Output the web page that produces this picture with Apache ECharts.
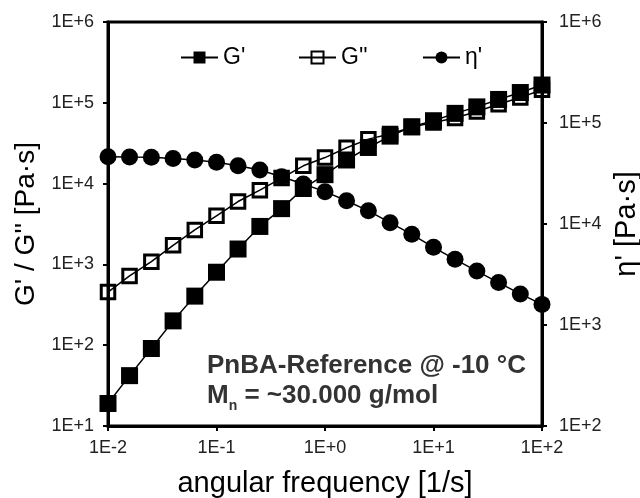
<!DOCTYPE html>
<html><head><meta charset="utf-8">
<script src="https://cdn.jsdelivr.net/npm/echarts@6/dist/echarts.min.js"></script>
<style>html,body{margin:0;padding:0;background:#fff}#c{width:640px;height:498px}</style>
</head><body><div id="c"></div>
<script>
// angular frequency [1/s]
const freq = [0.01, 0.0158, 0.0251, 0.0398, 0.0631, 0.1, 0.158, 0.251, 0.398, 0.631, 1, 1.58, 2.51, 3.98, 6.31, 10, 15.8, 25.1, 39.8, 63.1, 100];
// G' [Pa]
const Gp = [19, 42, 91, 200, 405, 800, 1550, 2950, 4900, 8700, 12900, 19600, 28000, 38700, 50500, 60000, 74000, 89000, 110000, 134000, 166000];
// G'' [Pa]
const Gpp = [455, 720, 1080, 1720, 2670, 4000, 6000, 8300, 11700, 16600, 21000, 27800, 35500, 41000, 50000, 57000, 65000, 78000, 96000, 116000, 145000];
// eta' [Pa·s]
const eta = [46400, 46000, 45700, 44600, 43000, 40800, 37800, 34300, 29400, 24900, 20900, 17000, 13500, 10300, 7900, 5880, 4470, 3420, 2630, 2030, 1600];

const xTickLabels = ['1E-2', '1E-1', '1E+0', '1E+1', '1E+2'];
const leftTickLabels = ['1E+1', '1E+2', '1E+3', '1E+4', '1E+5', '1E+6'];
const rightTickLabels = ['1E+2', '1E+3', '1E+4', '1E+5', '1E+6'];

const FONT = 'Liberation Sans, Arial, sans-serif';
const pick = (arr, minExp) => v => arr[Math.round(Math.log10(v)) - minExp] || '';

const axisCommon = {
  type: 'log', logBase: 10,
  axisLine: { show: true, lineStyle: { color: '#000', width: 3 } },
  axisTick: { show: true, inside: false, length: 5, lineStyle: { color: '#000', width: 2 } },
  splitLine: { show: false },
  minorTick: { show: false },
  nameLocation: 'middle',
  nameTextStyle: { fontFamily: FONT, fontSize: 28, color: '#000' }
};

const chart = echarts.init(document.getElementById('c'), null, { renderer: 'canvas' });
chart.setOption({
  animation: false,
  backgroundColor: '#fff',
  grid: { left: 108, right: 98, top: 22, bottom: 72, containLabel: false, outerBoundsMode: 'none', show: true, borderColor: '#000', borderWidth: 3, backgroundColor: 'transparent' },
  legend: [
    { data: ["G'"], left: 175, top: 41 },
    { data: ["G''"], left: 293, top: 41 },
    { data: ["η'"], left: 417, top: 41 }
  ].map(l => Object.assign(l, {
    itemWidth: 37, itemHeight: 15, itemGap: 0,
    textStyle: { fontFamily: FONT, fontSize: 23, color: '#000' },
    selectedMode: false
  })),
  xAxis: Object.assign({}, axisCommon, {
    min: 0.01, max: 100, interval: 1,
    name: 'angular frequency [1/s]', nameGap: 43,
    nameTextStyle: { fontFamily: FONT, fontSize: 29, color: '#000' },
    axisLabel: { fontFamily: FONT, fontSize: 18, color: '#222', margin: 13, formatter: pick(xTickLabels, -2) }
  }),
  yAxis: [
    Object.assign({}, axisCommon, {
      position: 'left', min: 10, max: 1e6, interval: 1,
      name: "G' / G'' [Pa·s]", nameGap: 62, nameRotate: 90,
      axisLabel: { fontFamily: FONT, fontSize: 18, color: '#222', margin: 14, formatter: pick(leftTickLabels, 1) }
    }),
    Object.assign({}, axisCommon, {
      position: 'right', min: 100, max: 1e6, interval: 1,
      name: "η' [Pa·s]", nameGap: 66, nameRotate: 90,
      nameTextStyle: { fontFamily: FONT, fontSize: 29, color: '#000' },
      axisLabel: { fontFamily: FONT, fontSize: 18, color: '#222', margin: 17, formatter: pick(rightTickLabels, 2) }
    })
  ],
  series: [
    {
      name: "G'", type: 'line', yAxisIndex: 0, z: 3,
      data: freq.map((f, i) => [f, Gp[i]]),
      symbol: 'rect', symbolSize: 17,
      lineStyle: { color: '#000', width: 1.5 },
      itemStyle: { color: '#000', borderColor: '#000', borderWidth: 0 }
    },
    {
      name: "G''", type: 'line', yAxisIndex: 0, z: 4,
      data: freq.map((f, i) => [f, Gpp[i]]),
      symbol: 'rect', symbolSize: 13.5,
      lineStyle: { color: '#000', width: 1.5 },
      itemStyle: { color: 'rgba(255,255,255,0)', borderColor: '#000', borderWidth: 3 }
    },
    {
      name: "η'", type: 'line', yAxisIndex: 1, z: 5,
      data: freq.map((f, i) => [f, eta[i]]),
      symbol: 'circle', symbolSize: 17,
      lineStyle: { color: '#000', width: 1.5 },
      itemStyle: { color: '#000', borderWidth: 0 }
    }
  ],
  graphic: [
    {
      type: 'text', left: 207, top: 353, z: 10,
      style: { text: 'PnBA-Reference @ -10 °C', font: 'bold 26px ' + FONT, fill: '#333' }
    },
    {
      type: 'text', left: 207, top: 383, z: 10,
      style: {
        text: '{a|M}{s|n}{a| = ~30.000 g/mol}',
        rich: {
          a: { font: 'bold 26px ' + FONT, fill: '#333', lineHeight: 28, verticalAlign: 'bottom' },
          s: { font: 'bold 14px ' + FONT, fill: '#333', lineHeight: 14, verticalAlign: 'bottom', padding: [0, 0, -4, 0] }
        }
      }
    }
  ]
});
</script>
</body></html>
